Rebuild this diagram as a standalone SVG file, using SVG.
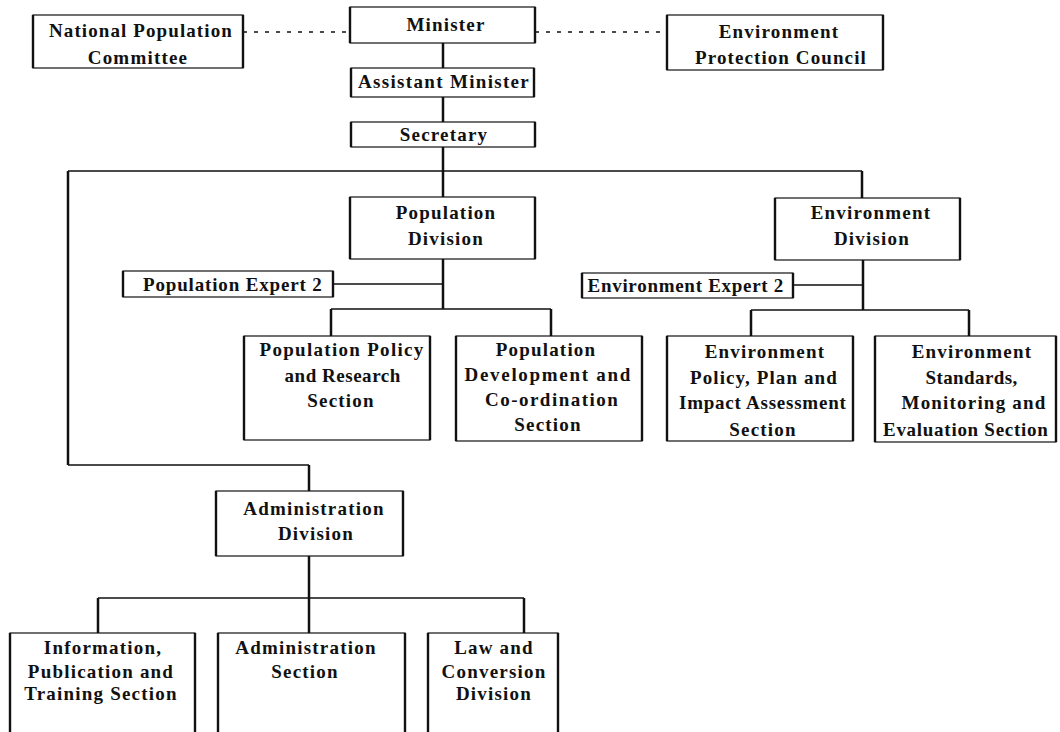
<svg xmlns="http://www.w3.org/2000/svg" width="1060" height="732" viewBox="0 0 1060 732">
<style>
.box{fill:#fff;stroke:#111;stroke-width:1.2}
.side{stroke:#111;stroke-width:2.4;fill:none}
.t{font-family:"Liberation Serif","Times New Roman",serif;font-size:19px;font-weight:bold;fill:#111;text-anchor:middle;letter-spacing:1.2px}
.thin{stroke:#111;stroke-width:1.3;fill:none}
.thick{stroke:#111;stroke-width:2.5;fill:none}
.dot{stroke:#111;stroke-width:1.6;fill:none;stroke-dasharray:4 7}
</style>
<rect width="1060" height="732" fill="#fff"/>
<g id="connectors">
<path class="dot" d="M243,32 H350 M535,32 H667"/>
<path class="thick" d="M443,43 V68 M443,97 V122 M443,147 V197"/>
<path class="thin" d="M68,171 H862 M68,465 H309"/>
<path class="thick" d="M68,171 V465 M309,465 V491 M862,171 V198"/>
<path class="thick" d="M443,259 V309 M331,309 V336 M551,309 V336"/>
<path class="thin" d="M333,284 H443 M331,309 H551"/>
<path class="thick" d="M863,260 V310 M751,310 V336 M969,310 V336"/>
<path class="thin" d="M793,285 H863 M751,310 H969"/>
<path class="thick" d="M309,556 V598 M98,598 V633 M309,598 V633 M524,598 V633"/>
<path class="thin" d="M98,598 H524"/>
</g>
<g id="npc">
<rect class="box" x="33" y="15" width="210" height="53"/>
<path class="side" d="M33,15 V68 M243,15 V68"/>
<text class="t" x="141" y="37" textLength="184">National Population</text>
<text class="t" x="138" y="64">Committee</text>
</g>
<g id="minister">
<rect class="box" x="350" y="7" width="185" height="36"/>
<path class="side" d="M350,7 V43 M535,7 V43"/>
<text class="t" x="446" y="31">Minister</text>
</g>
<g id="epc">
<rect class="box" x="667" y="15" width="216" height="55"/>
<path class="side" d="M667,15 V70 M883,15 V70"/>
<text class="t" x="779" y="38">Environment</text>
<text class="t" x="781" y="64" textLength="172">Protection Council</text>
</g>
<g id="assistant">
<rect class="box" x="351" y="68" width="183" height="29"/>
<path class="side" d="M351,68 V97 M534,68 V97"/>
<text class="t" x="444" y="88" textLength="172">Assistant Minister</text>
</g>
<g id="secretary">
<rect class="box" x="351" y="122" width="184" height="25"/>
<path class="side" d="M351,122 V147 M535,122 V147"/>
<text class="t" x="444" y="141">Secretary</text>
</g>
<g id="popdiv">
<rect class="box" x="350" y="197" width="185" height="62"/>
<path class="side" d="M350,197 V259 M535,197 V259"/>
<text class="t" x="446" y="219">Population</text>
<text class="t" x="446" y="245">Division</text>
</g>
<g id="envdiv">
<rect class="box" x="775" y="198" width="185" height="62"/>
<path class="side" d="M775,198 V260 M960,198 V260"/>
<text class="t" x="871" y="219">Environment</text>
<text class="t" x="872" y="245">Division</text>
</g>
<g id="popexp">
<rect class="box" x="123" y="271" width="210" height="26"/>
<path class="side" d="M123,271 V297 M333,271 V297"/>
<text class="t" x="233" y="291" textLength="180">Population Expert 2</text>
</g>
<g id="envexp">
<rect class="box" x="582" y="273" width="211" height="25"/>
<path class="side" d="M582,273 V298 M793,273 V298"/>
<text class="t" x="686" y="292" textLength="197">Environment Expert 2</text>
</g>
<g id="poppolicy">
<rect class="box" x="244" y="336" width="186" height="104"/>
<path class="side" d="M244,336 V440 M430,336 V440"/>
<text class="t" x="342" y="356" textLength="165">Population Policy</text>
<text class="t" x="343" y="382" textLength="117">and Research</text>
<text class="t" x="341" y="407">Section</text>
</g>
<g id="popdev">
<rect class="box" x="456" y="336" width="186" height="105"/>
<path class="side" d="M456,336 V441 M642,336 V441"/>
<text class="t" x="546" y="356">Population</text>
<text class="t" x="548" y="381" textLength="167">Development and</text>
<text class="t" x="552" y="406" textLength="134">Co-ordination</text>
<text class="t" x="548" y="431">Section</text>
</g>
<g id="envpolicy">
<rect class="box" x="667" y="336" width="186" height="105"/>
<path class="side" d="M667,336 V441 M853,336 V441"/>
<text class="t" x="765" y="358">Environment</text>
<text class="t" x="764" y="384" textLength="148">Policy, Plan and</text>
<text class="t" x="763" y="409" textLength="168">Impact Assessment</text>
<text class="t" x="763" y="436">Section</text>
</g>
<g id="envstd">
<rect class="box" x="875" y="336" width="181" height="106"/>
<path class="side" d="M875,336 V442 M1056,336 V442"/>
<text class="t" x="972" y="358">Environment</text>
<text class="t" x="972" y="384" textLength="93">Standards,</text>
<text class="t" x="974" y="409" textLength="145">Monitoring and</text>
<text class="t" x="966" y="436" textLength="166">Evaluation Section</text>
</g>
<g id="admindiv">
<rect class="box" x="216" y="491" width="187" height="65"/>
<path class="side" d="M216,491 V556 M403,491 V556"/>
<text class="t" x="314" y="515">Administration</text>
<text class="t" x="316" y="540">Division</text>
</g>
<g id="info">
<rect class="box" x="10" y="633" width="185" height="110"/>
<path class="side" d="M10,633 V732 M195,633 V732"/>
<text class="t" x="103" y="654">Information,</text>
<text class="t" x="101" y="678">Publication and</text>
<text class="t" x="101" y="700">Training Section</text>
</g>
<g id="adminsec">
<rect class="box" x="218" y="633" width="187" height="110"/>
<path class="side" d="M218,633 V732 M405,633 V732"/>
<text class="t" x="306" y="654">Administration</text>
<text class="t" x="305" y="678">Section</text>
</g>
<g id="law">
<rect class="box" x="428" y="633" width="130" height="110"/>
<path class="side" d="M428,633 V732 M558,633 V732"/>
<text class="t" x="494" y="654">Law and</text>
<text class="t" x="494" y="678">Conversion</text>
<text class="t" x="494" y="700">Division</text>
</g>
</svg>
